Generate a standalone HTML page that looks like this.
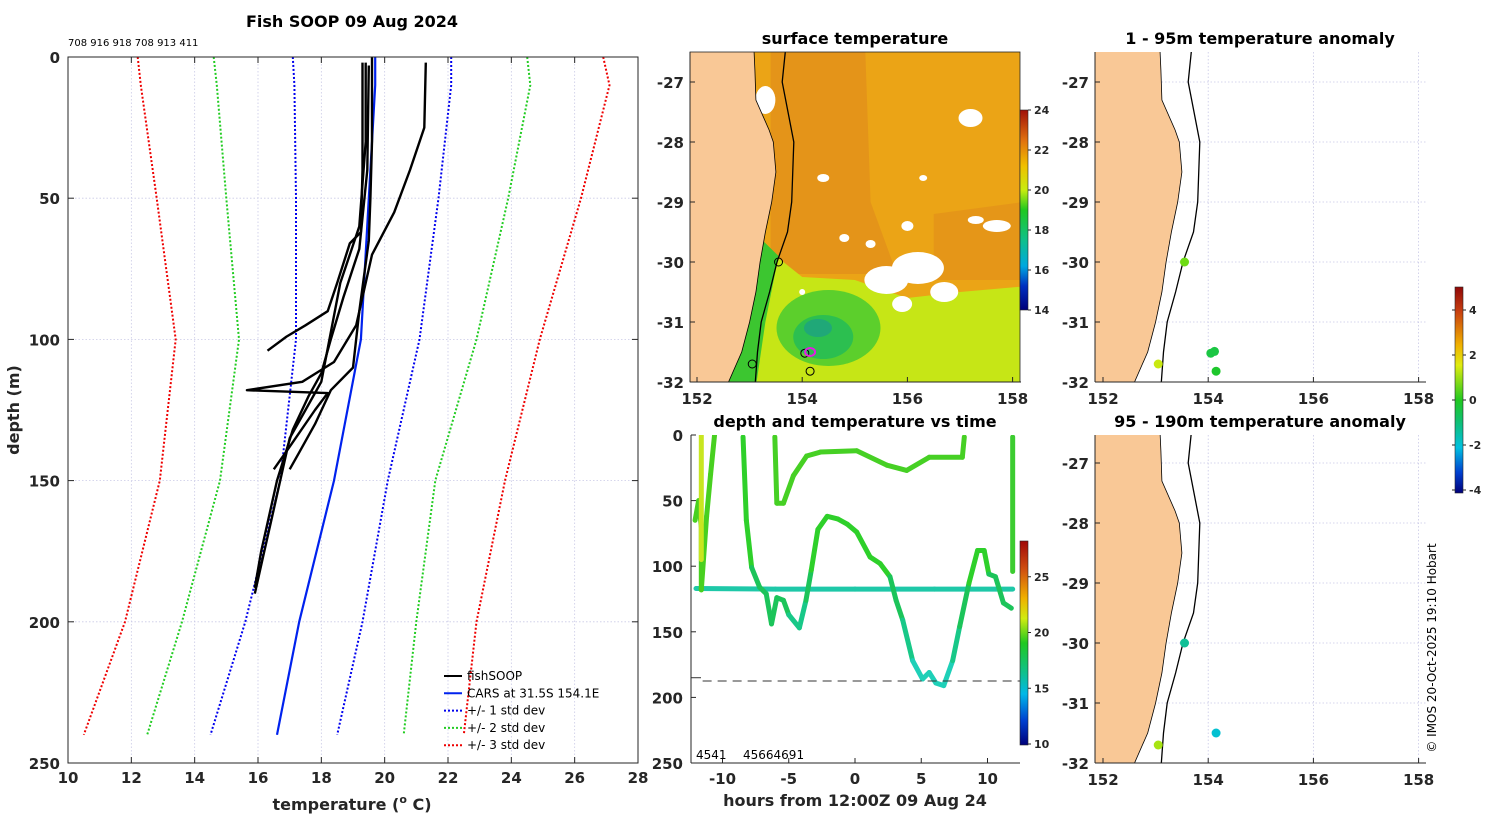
<!DOCTYPE html>
<html><head><meta charset="utf-8">
<style>
html,body{margin:0;padding:0;background:#fff;}
svg{display:block;font-family:"DejaVu Sans","Liberation Sans",sans-serif;}
</style></head>
<body>
<svg id="fig" width="1500" height="820" viewBox="0 0 1500 820" xmlns="http://www.w3.org/2000/svg">
<defs>
<linearGradient id="jetSST" x1="0" y1="1" x2="0" y2="0">
<stop offset="0" stop-color="#00007a"/><stop offset="0.12" stop-color="#0030c0"/><stop offset="0.22" stop-color="#00a8e0"/><stop offset="0.35" stop-color="#10c08a"/><stop offset="0.5" stop-color="#20c820"/><stop offset="0.6" stop-color="#c8ec10"/><stop offset="0.72" stop-color="#f0c000"/><stop offset="0.85" stop-color="#e07010"/><stop offset="1" stop-color="#a01008"/>
</linearGradient>
<linearGradient id="jetT" x1="0" y1="1" x2="0" y2="0">
<stop offset="0" stop-color="#00007a"/><stop offset="0.12" stop-color="#0040d0"/><stop offset="0.25" stop-color="#00b8e8"/><stop offset="0.35" stop-color="#10c090"/><stop offset="0.5" stop-color="#20c820"/><stop offset="0.62" stop-color="#d0ec10"/><stop offset="0.72" stop-color="#f0b000"/><stop offset="0.86" stop-color="#d05010"/><stop offset="1" stop-color="#a00808"/>
</linearGradient>
<linearGradient id="jetA" x1="0" y1="1" x2="0" y2="0">
<stop offset="0" stop-color="#00007a"/><stop offset="0.1" stop-color="#0040d0"/><stop offset="0.22" stop-color="#00c0e0"/><stop offset="0.35" stop-color="#10c070"/><stop offset="0.45" stop-color="#20c820"/><stop offset="0.62" stop-color="#e0ec10"/><stop offset="0.72" stop-color="#f0b000"/><stop offset="0.88" stop-color="#c84010"/><stop offset="1" stop-color="#900808"/>
</linearGradient>
<clipPath id="cL"><rect x="68" y="57" width="570" height="706"/></clipPath>
<clipPath id="cM"><rect x="690" y="52" width="330" height="330"/></clipPath>
<clipPath id="cB"><rect x="691" y="435" width="329" height="328"/></clipPath>
<clipPath id="cR1"><rect x="1095" y="52" width="331" height="330"/></clipPath>
<clipPath id="cR2"><rect x="1095" y="435" width="331" height="328"/></clipPath>
</defs>
</svg>
<script>
// ---------- LEFT PROFILE CHART DATA ----------
const depthTicks=[0,50,100,150,200,250];
const tempTicks=[10,12,14,16,18,20,22,24,26,28];
const stdDepths=[0,10,50,100,150,200,240];
const carsMean=[19.7,19.7,19.5,19.25,18.4,17.3,16.6];
const sd1Low=[17.1,17.15,17.2,17.2,16.7,15.6,14.5];
const sd1High=[22.1,22.1,21.7,21.1,20.1,19.3,18.5];
const sd2Low=[14.6,14.7,15.0,15.4,14.8,13.6,12.5];
const sd2High=[24.5,24.6,23.9,22.9,21.6,21.0,20.6];
const sd3Low=[12.2,12.3,12.8,13.4,12.9,11.8,10.5];
const sd3High=[26.9,27.1,26.2,24.9,23.8,22.9,22.5];
const fishT1=[19.3,19.3,19.3,19.25,18.9,18.5,18.2,17.5,16.9,16.3];
const fishD1=[2,20,40,62,66,80,90,95,99,104];
const fishT2=[19.6,19.6,19.55,19.5,19.2,19.0,18.3,17.8,17.3,17.0];
const fishD2=[0,30,50,65,90,110,118,130,140,146];
const fishT3=[21.3,21.25,20.8,20.3,19.6,19.1,18.4,17.4,15.65,18.2,17.8,17.0,16.5];
const fishD3=[2,25,40,55,70,95,108,115,118,119,125,138,146];
const fishT4=[19.4,19.4,19.2,18.9,18.6,18.0,17.5,17.0,16.7,16.4,16.2,15.9];
const fishD4=[2,30,60,70,80,115,125,135,150,165,175,190];
const fishT5=[19.5,19.45,19.2,18.7,18.3,18.0,17.6,17.1,16.6,16.1,15.9];
const fishD5=[3,40,68,85,100,112,120,132,150,175,188];
// ---------- TIME-DEPTH CHART DATA ----------
const hourTicks=[-10,-5,0,5,10];
const flatH=[-12,-6,0,6,11.9];
const flatD=[117,117.5,117.5,117.5,117.5];
const trackAH=[-12.07,-11.8,-11.6,-11.6,-11.6,-11.2,-10.9,-10.6];
const trackAD=[65,50,70,117,118,62,30,0];
const trackYH=[-11.6,-11.6];
const trackYD=[0,95];
const trackBH=[-8.45,-8.2,-7.8,-7.2,-6.7,-6.3,-5.9,-5.4,-5.0,-4.2,-3.7,-3.3,-2.8,-2.1,-1.3,-0.58,0.13,1.14,1.9,2.64,3.1,3.6,4.35,5.1,5.6,6.1,6.7,7.37,7.9,8.6,9.25,9.75,10.1,10.6,11.2,11.8];
const trackBD=[1.5,65,101,116,121,144,124,126,137,147,126,103,72,62,64,68,74,93,98,108,126,141,172,186,181,189,191,172,146,113,88,88,106,108,128,132];
const trackCH=[-6.05,-5.9,-5.4,-4.65,-3.65,-2.6,0.13,2.4,3.9,5.6,8.1,8.25];
const trackCD=[1.5,52,52,31,16,13,12,23,27,17,17,1.5];
const trackDH=[11.9,11.9];
const trackDD=[1.5,104];
const dashDepth=187.5;
// ---------- MAP DATA ----------
const coastLat=[-26.4,-26.8,-27.3,-27.8,-28.0,-28.5,-29.0,-29.5,-30.0,-30.5,-31.0,-31.5,-32.1];
const coastLon=[153.08,153.1,153.12,153.37,153.45,153.5,153.42,153.3,153.2,153.12,153.0,152.85,152.55];
const contourLat=[-26.4,-27.0,-28.0,-29.0,-29.5,-30.0,-30.5,-31.0,-31.5,-32.1];
const contourLon=[153.69,153.62,153.84,153.8,153.72,153.52,153.38,153.22,153.15,153.1];
const anomLon1=[153.55,154.05,154.12,154.15,153.05];
const anomLat1=[-30.0,-31.52,-31.49,-31.82,-31.7];
const anomVal1=[1.0,-0.3,-0.3,-0.1,1.8];
const anomLon2=[153.55,154.15,153.05];
const anomLat2=[-30.0,-31.5,-31.7];
const anomVal2=[-1.0,-1.8,1.5];
const sstRings=[[153.55,-30.0],[153.05,-31.7],[154.05,-31.52],[154.15,-31.82]];

const NS="http://www.w3.org/2000/svg";
const fig=document.getElementById('fig');
function el(tag,attrs,parent,text){const e=document.createElementNS(NS,tag);for(const k in attrs)e.setAttribute(k,attrs[k]);if(text!==undefined)e.textContent=text;(parent||fig).appendChild(e);return e;}
function grp(name,parent){const g=el('g',{},parent);


return g;}
function txt(x,y,s,size,weight,anchor,parent,name,extra){
const a=Object.assign({x:x,y:y,'text-anchor':anchor||'middle','font-size':size||14,'font-weight':weight||'bold',fill:'#262626'},extra||{});
const t=el('text',a,parent,s);


return t;}

// ===== LEFT PANEL =====
const xT=t=>68+(t-10)*570/18, yD=d=>57+d*706/250;
const L=grp('profile-chart');
for(const t of tempTicks){el('line',{x1:xT(t),x2:xT(t),y1:57,y2:763,stroke:'#c9c9e6','stroke-width':0.8,'stroke-dasharray':'1.5,2'},L);}
for(const d of depthTicks){el('line',{x1:68,x2:638,y1:yD(d),y2:yD(d),stroke:'#c9c9e6','stroke-width':0.8,'stroke-dasharray':'1.5,2'},L);}
function pline(T,D,color,w,dash,name,parent){const pts=T.map((t,i)=>xT(t).toFixed(1)+','+yD(D[i]).toFixed(1)).join(' ');
const p=el('polyline',{points:pts,fill:'none',stroke:color,'stroke-width':w,'stroke-dasharray':dash||'none','stroke-linejoin':'round'},parent);

}
const LP=grp('profile-lines',L);LP.setAttribute('clip-path','url(#cL)');
pline(sd3Low,stdDepths,'#ee0000',2,'2,2','std3-low',LP);pline(sd3High,stdDepths,'#ee0000',2,'2,2','std3-high',LP);
pline(sd2Low,stdDepths,'#22cc22',2,'2,2','std2-low',LP);pline(sd2High,stdDepths,'#22cc22',2,'2,2','std2-high',LP);
pline(sd1Low,stdDepths,'#0000ee',2,'2,2','std1-low',LP);pline(sd1High,stdDepths,'#0000ee',2,'2,2','std1-high',LP);
pline(carsMean,stdDepths,'#0022ee',2.2,null,'cars-mean',LP);
pline(fishT1,fishD1,'#000',2.4,null,'fish-profile-1',LP);pline(fishT2,fishD2,'#000',2.4,null,'fish-profile-2',LP);
pline(fishT3,fishD3,'#000',2.4,null,'fish-profile-3',LP);pline(fishT4,fishD4,'#000',2.4,null,'fish-profile-4',LP);
pline(fishT5,fishD5,'#000',2.4,null,'fish-profile-5',LP);
el('rect',{x:68,y:57,width:570,height:706,fill:'none',stroke:'#262626','stroke-width':1},L);
for(const t of tempTicks){el('line',{x1:xT(t),x2:xT(t),y1:763,y2:757,stroke:'#262626'},L);el('line',{x1:xT(t),x2:xT(t),y1:57,y2:63,stroke:'#262626'},L);txt(xT(t),783,String(t),15,'bold','middle',L,'x-tick-label');}
for(const d of depthTicks){el('line',{x1:68,x2:74,y1:yD(d),y2:yD(d),stroke:'#262626'},L);el('line',{x1:632,x2:638,y1:yD(d),y2:yD(d),stroke:'#262626'},L);txt(60,yD(d)+6,String(d),15,'bold','end',L,'y-tick-label');}
const xl=txt(352,810,'temperature','16','bold','middle',L,'x-axis-title');
xl.innerHTML='temperature (<tspan dy="-7" font-size="11">o</tspan><tspan dy="7"> C)</tspan>';
txt(0,0,'depth (m)',16,'bold','middle',L,'y-axis-title',{transform:'translate(19,410) rotate(-90)'});
txt(352,27,'Fish SOOP 09 Aug 2024',16,'bold','middle',L,'profile-chart-title',{fill:'#000'});
txt(68,46,'708 916 918 708 913 411',10,'normal','start',L,'cruise-ids',{fill:'#000'});
const leg=grp('legend',L);
const legItems=[['fishSOOP','#000',null],['CARS at 31.5S 154.1E','#0022ee',null],['+/- 1 std dev','#0000ee','2,2'],['+/- 2 std dev','#22cc22','2,2'],['+/- 3 std dev','#ee0000','2,2']];
legItems.forEach((it,i)=>{const y=676+i*17.3;const g=grp('legend-entry',leg);el('line',{x1:444,x2:462,y1:y,y2:y,stroke:it[1],'stroke-width':2,'stroke-dasharray':it[2]||'none'},g);txt(467,y+4,it[0],12,'normal','start',g,'legend-text',{fill:'#000'});});

// ===== MAP helpers =====
function mapX(x0){return lon=>x0+(lon-152)*52.6;}
function mapY(yref){return lat=>yref+(-27-lat)*60;}
function coastPaths(parent,mx,my,land){
const cp=coastLat.map((la,i)=>mx(coastLon[i]).toFixed(1)+','+my(la).toFixed(1)).join(' ');
const lp=el('polygon',{points:'0,'+my(-26.4)+' '+cp+' 0,'+my(-32.1),fill:land,stroke:'#000','stroke-width':0.8},parent);


const ct=contourLat.map((la,i)=>mx(contourLon[i]).toFixed(1)+','+my(la).toFixed(1)).join(' ');
const c=el('polyline',{points:ct,fill:'none',stroke:'#000','stroke-width':1.3},parent);

}
function mapAxes(parent,x0,y0,h,mx,my){
el('line',{x1:x0,x2:x0,y1:y0,y2:y0+h,stroke:'#262626'},parent);el('line',{x1:x0,x2:x0+331,y1:y0+h,y2:y0+h,stroke:'#262626'},parent);
for(const lon of [152,154,156,158]){el('line',{x1:mx(lon),x2:mx(lon),y1:y0+h,y2:y0+h-5,stroke:'#262626'},parent);txt(mx(lon),y0+h+22,String(lon),15,'bold','middle',parent,'lon-tick-label');}
for(const lat of [-27,-28,-29,-30,-31,-32]){el('line',{x1:x0,x2:x0+5,y1:my(lat),y2:my(lat),stroke:'#262626'},parent);txt(x0-6,my(lat)+6,String(lat),15,'bold','end',parent,'lat-tick-label');}}

// ===== SST MAP =====
const M=grp('sst-map');const mx=mapX(697),my=mapY(82);
const MC=grp('sst-field',M);MC.setAttribute('clip-path','url(#cM)');
el('rect',{x:690,y:52,width:330,height:330,fill:'#eba416'},MC);
el('polygon',{points:`${mx(153.4)},52 ${mx(155.2)},52 ${mx(155.3)},${my(-29)} ${mx(155.8)},${my(-30.2)} ${mx(153.4)},${my(-30.2)}`,fill:'#e2901a',opacity:0.8},MC);
el('polygon',{points:`${mx(156.5)},${my(-29.2)} ${mx(158.2)},${my(-29)} ${mx(158.2)},${my(-30.3)} ${mx(156.5)},${my(-30.3)}`,fill:'#e2901a',opacity:0.7},MC);
el('polygon',{points:`${mx(152.9)},${my(-29.5)} ${mx(153.5)},${my(-29.9)} ${mx(154)},${my(-30.25)} ${mx(155)},${my(-30.3)} ${mx(156)},${my(-30.6)} ${mx(157)},${my(-30.5)} ${mx(158.3)},${my(-30.4)} ${mx(158.3)},${my(-32.2)} ${mx(152.5)},${my(-32.2)}`,fill:'#c6e616'},MC);
el('ellipse',{cx:mx(154.5),cy:my(-31.1),rx:52,ry:38,fill:'#5ccf2c'},MC);
el('ellipse',{cx:mx(154.4),cy:my(-31.25),rx:30,ry:22,fill:'#2cbf50'},MC);
el('ellipse',{cx:mx(154.3),cy:my(-31.1),rx:14,ry:9,fill:'#20a878'},MC);
el('polygon',{points:`${mx(153.2)},${my(-29.6)} ${mx(153.55)},${my(-29.9)} ${mx(153.3)},${my(-31)} ${mx(153.1)},${my(-32.2)} ${mx(152.5)},${my(-32.2)}`,fill:'#3cc630'},MC);
for(const c of [[155.6,-30.3,22,14],[156.2,-30.1,26,16],[156.7,-30.5,14,10],[155.9,-30.7,10,8],[157.2,-27.6,12,9],[157.7,-29.4,14,6],[153.3,-27.3,10,14],[154.8,-29.6,5,4],[154.4,-28.6,6,4],[156.0,-29.4,6,5],[155.3,-29.7,5,4],[157.3,-29.3,8,4],[156.3,-28.6,4,3],[154.0,-30.5,3,3]]){el('ellipse',{cx:mx(c[0]),cy:my(c[1]),rx:c[2],ry:c[3],fill:'#fff'},MC);}
coastPaths(MC,mx,my,'#f9c896');
for(const r of sstRings){el('circle',{cx:mx(r[0]),cy:my(r[1]),r:4,fill:'none',stroke:'#000','stroke-width':1},MC);}
el('ellipse',{cx:mx(154.15),cy:my(-31.5),rx:5,ry:4,fill:'none',stroke:'#e020e0','stroke-width':2},MC);
el('rect',{x:690,y:52,width:330,height:330,fill:'none',stroke:'#262626','stroke-width':0.8},M);
mapAxes(M,690,52,330,mx,my);
txt(855,44,'surface temperature',16,'bold','middle',M,'sst-map-title',{fill:'#000'});
const cb1=grp('sst-colorbar',M);
el('rect',{x:1020,y:110,width:8,height:200,fill:'url(#jetSST)',stroke:'#262626','stroke-width':0.6},cb1);
for(const v of [14,16,18,20,22,24]){const y=310-(v-14)*20;el('line',{x1:1028,x2:1031,y1:y,y2:y,stroke:'#262626'},cb1);txt(1034,y+4,String(v),11,'bold','start',cb1,'colorbar-tick');}

// ===== TIME-DEPTH =====
const B=grp('depth-time-chart');
const xH=h=>855+h*13.25, yB=d=>435+d*328/250;
const BC=grp('tracks',B);BC.setAttribute('clip-path','url(#cB)');
function tcol(d,fixed){if(fixed)return fixed;if(d<105)return '#2ed02a';if(d<135)return '#1cc45a';if(d<160)return '#18c888';return '#1ed0b8';}
function track(H,D,name,fixed){const g=grp(name,BC);for(let i=0;i<H.length-1;i++){el('line',{x1:xH(H[i]),y1:yB(D[i]),x2:xH(H[i+1]),y2:yB(D[i+1]),stroke:tcol((D[i]+D[i+1])/2,fixed),'stroke-width':5,'stroke-linecap':'round'},g);}}
track(flatH,flatD,'flat-track','#1ec8a8');
track(trackAH,trackAD,'track-a','#48d020');
track(trackYH,trackYD,'track-yellow','#c8e620');
track(trackBH,trackBD,'track-b');
track(trackCH,trackCD,'track-c','#46d024');
track(trackDH,trackDD,'track-d','#3ccc30');
el('line',{x1:xH(-11.5),x2:1020,y1:yB(dashDepth),y2:yB(dashDepth),stroke:'#333','stroke-width':1,'stroke-dasharray':'9,6'},B);
el('line',{x1:691,x2:701,y1:yB(185),y2:yB(185),stroke:'#333'},B);
el('line',{x1:691,x2:691,y1:435,y2:763,stroke:'#262626'},B);el('line',{x1:691,x2:1020,y1:763,y2:763,stroke:'#262626'},B);
for(const h of hourTicks){el('line',{x1:xH(h),x2:xH(h),y1:763,y2:758,stroke:'#262626'},B);txt(xH(h),784,String(h),15,'bold','middle',B,'x-tick-label');}
for(const d of depthTicks){el('line',{x1:691,x2:696,y1:yB(d),y2:yB(d),stroke:'#262626'},B);txt(683,yB(d)+6,String(d),15,'bold','end',B,'y-tick-label');}
txt(855,806,'hours from 12:00Z 09 Aug 24',16,'bold','middle',B,'x-axis-title');
txt(855,427,'depth and temperature vs time',16,'bold','middle',B,'depth-time-title',{fill:'#000'});
txt(696,759,'4541',12,'normal','start',B,'cruise-id',{fill:'#000'});
txt(743,759,'45664691',12,'normal','start',B,'cruise-id',{fill:'#000'});
const cb2=grp('temp-colorbar',B);
el('rect',{x:1020,y:541,width:8,height:204,fill:'url(#jetT)',stroke:'#262626','stroke-width':0.6},cb2);
for(const v of [10,15,20,25]){const y=744-(v-10)*11.15;el('line',{x1:1028,x2:1031,y1:y,y2:y,stroke:'#262626'},cb2);txt(1034,y+4,String(v),11,'bold','start',cb2,'colorbar-tick');}

// ===== ANOMALY MAPS =====
function acol(v){const stops=[[-4,[0,0,122]],[-3,[0,64,208]],[-2,[0,192,224]],[-1,[16,192,150]],[0,[32,200,32]],[1,[110,220,20]],[2,[224,236,16]],[3,[240,176,0]],[4,[200,64,16]],[5,[144,8,8]]];
for(let i=0;i<stops.length-1;i++){if(v<=stops[i+1][0]){const f=(v-stops[i][0])/(stops[i+1][0]-stops[i][0]);const a=stops[i][1],b=stops[i+1][1];return 'rgb('+a.map((c,k)=>Math.round(c+(b[k]-c)*Math.max(0,f))).join(',')+')';}}return 'rgb(144,8,8)';}
function anomMap(name,y0,h,yref,LON,LAT,VAL,title,clip){
const A=grp(name);const ax=mapX(1103),ay=mapY(yref);
const AC=grp('map-body',A);AC.setAttribute('clip-path','url('+clip+')');
for(const lon of [154,156,158])el('line',{x1:ax(lon),x2:ax(lon),y1:y0,y2:y0+h,stroke:'#c9c9e6','stroke-width':0.8,'stroke-dasharray':'1.5,2'},AC);
for(const lat of [-27,-28,-29,-30,-31])el('line',{x1:1095,x2:1426,y1:ay(lat),y2:ay(lat),stroke:'#c9c9e6','stroke-width':0.8,'stroke-dasharray':'1.5,2'},AC);
coastPaths(AC,ax,ay,'#f9c896');
LON.forEach((lo,i)=>{const c=el('circle',{cx:ax(lo),cy:ay(LAT[i]),r:4.5,fill:acol(VAL[i])},AC);

});
mapAxes(A,1095,y0,h,ax,ay);
txt(1260,y0-8,title,16,'bold','middle',A,'map-title',{fill:'#000'});}
anomMap('anomaly-map-shallow',52,330,82,anomLon1,anomLat1,anomVal1,'1 - 95m temperature anomaly','#cR1');
anomMap('anomaly-map-deep',435,328,463,anomLon2,anomLat2,anomVal2,'95 - 190m temperature anomaly','#cR2');
const cb3=grp('anomaly-colorbar');
el('rect',{x:1455,y:287,width:8,height:206,fill:'url(#jetA)',stroke:'#262626','stroke-width':0.6},cb3);
for(const v of [-4,-2,0,2,4]){const y=400-v*22.5;el('line',{x1:1463,x2:1466,y1:y,y2:y,stroke:'#262626'},cb3);el('line',{x1:1452,x2:1455,y1:y,y2:y,stroke:'#262626'},cb3);txt(1469,y+4,String(v),11,'bold','start',cb3,'colorbar-tick');}
txt(0,0,'© IMOS 20-Oct-2025 19:10 Hobart',12,'normal','middle',null,'copyright',{transform:'translate(1436,648) rotate(-90)',fill:'#000'});
</script>
</body></html>
